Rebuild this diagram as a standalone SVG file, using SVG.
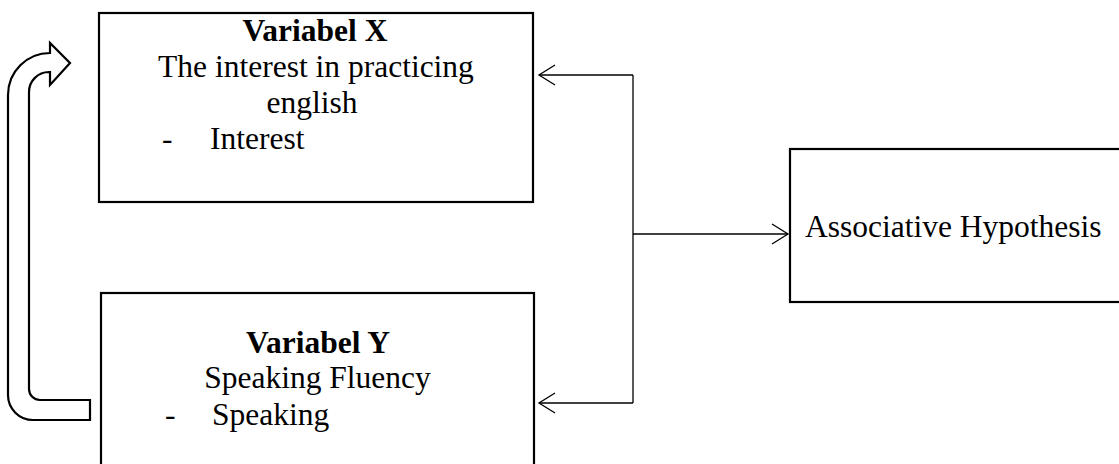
<svg xmlns="http://www.w3.org/2000/svg" width="1119" height="464" viewBox="0 0 1119 464">
<style>
.box{fill:#fff;stroke:#000;stroke-width:2.2}
.t{font-family:"Liberation Serif","Times New Roman",serif;font-size:31.5px;fill:#000}
.b{font-weight:bold}
.c{text-anchor:middle}
.con{fill:none;stroke:#000;stroke-width:1.3}
</style>
<defs>
<marker id="arr" markerUnits="userSpaceOnUse" viewBox="-18 -12 20 24" refX="0" refY="0" markerWidth="20" markerHeight="24" orient="auto">
<path d="M-16,-10 L0,0 L-16,10" fill="none" stroke="#000" stroke-width="1.3"/>
</marker>
</defs>
<rect width="1119" height="464" fill="#fff"/>
<g id="loop-arrow">
<path d="M70,63 L50,43 L50,53 A42,42 0 0 0 8,95 L8,395 A25,25 0 0 0 33,420 L90,420 L90,400 L40,400 A11,11 0 0 1 29,389 L29,92 A20,20 0 0 1 49,72 L50,72 L50,85 Z" fill="#fff" stroke="#000" stroke-width="2.2" stroke-linejoin="miter"/>
</g>
<g id="nodeX">
<rect class="box" x="99" y="13" width="434" height="189"/>
<text class="t b c" x="315" y="41">Variabel X</text>
<text class="t c" x="316" y="77">The interest in practicing</text>
<text class="t c" x="312" y="113">english</text>
<text class="t" x="162" y="149">-</text>
<text class="t" x="210" y="149">Interest</text>
</g>
<g id="nodeY">
<rect class="box" x="101" y="293" width="433" height="190"/>
<text class="t b c" x="318" y="353">Variabel Y</text>
<text class="t c" x="317.5" y="388">Speaking Fluency</text>
<text class="t" x="165" y="425">-</text>
<text class="t" x="212" y="425">Speaking</text>
</g>
<g id="nodeH">
<rect class="box" x="790" y="149" width="340" height="153"/>
<text class="t" x="805" y="237">Associative Hypothesis</text>
</g>
<g id="connectors">
<path class="con" d="M633,75 L633,403"/>
<path class="con" d="M633,75 L539,75" marker-end="url(#arr)"/>
<path class="con" d="M633,403 L539,403" marker-end="url(#arr)"/>
<path class="con" d="M633,234 L788,234" marker-end="url(#arr)"/>
</g>
</svg>
